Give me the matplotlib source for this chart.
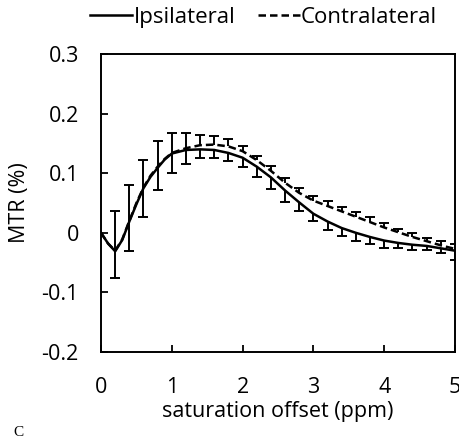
import numpy as np
import matplotlib
matplotlib.use('Agg')
import matplotlib.pyplot as plt

# curve values (ppm, MTR)
offset = [0.0, 0.1, 0.2, 0.3, 0.4, 0.5, 0.6, 0.7, 0.8, 0.9, 1.0,
          1.2, 1.4, 1.6, 1.8, 2.0, 2.2, 2.4, 2.6, 2.8, 3.0,
          3.2, 3.4, 3.6, 3.8, 4.0, 4.2, 4.4, 4.6, 4.8, 5.0]
ipsi = [0.0, -0.018, -0.031, -0.012, 0.019, 0.048, 0.075, 0.094, 0.109, 0.123, 0.133,
        0.139, 0.140, 0.139, 0.134, 0.126, 0.111, 0.093, 0.071, 0.051, 0.032,
        0.019, 0.008, 0.0, -0.007, -0.013, -0.017, -0.020, -0.022, -0.026, -0.030]
contra = [0.0, -0.018, -0.030, -0.011, 0.020, 0.050, 0.076, 0.096, 0.111, 0.124, 0.134,
          0.142, 0.147, 0.148, 0.145, 0.137, 0.122, 0.104, 0.084, 0.067, 0.054,
          0.045, 0.036, 0.027, 0.018, 0.009, 0.001, -0.007, -0.014, -0.021, -0.027]

# error bars every 0.2 ppm: ipsilateral shown below, contralateral above
err_offset = [0.2, 0.4, 0.6, 0.8, 1.0, 1.2, 1.4, 1.6, 1.8, 2.0, 2.2, 2.4, 2.6,
              2.8, 3.0, 3.2, 3.4, 3.6, 3.8, 4.0, 4.2, 4.4, 4.6, 4.8, 5.0]
ipsi_err = [0.044, 0.050, 0.048, 0.037, 0.032, 0.024, 0.014, 0.013, 0.013, 0.016,
            0.017, 0.020, 0.019, 0.015, 0.013, 0.014, 0.014, 0.013, 0.011, 0.012,
            0.009, 0.008, 0.006, 0.008, 0.015]
contra_err = [0.066, 0.060, 0.046, 0.043, 0.033, 0.025, 0.017, 0.014, 0.012, 0.009,
              0.007, 0.008, 0.008, 0.009, 0.008, 0.008, 0.007, 0.008, 0.008, 0.007,
              0.006, 0.006, 0.006, 0.008, 0.008]

x_ticks = [0, 1, 2, 3, 4, 5]
y_ticks = [-0.2, -0.1, 0.0, 0.1, 0.2, 0.3]
y_labels = ['-0.2', '-0.1', '0', '0.1', '0.2', '0.3']


def one_sided_bars(ax, x, y, err):
    # stem from the curve to the end, cap only at the far end
    ends = np.array(y) + np.array(err)
    ax.vlines(x, y, ends, color='black', lw=1.4)
    ax.plot(x, ends, ls='none', marker='_', ms=7, mew=1.4, color='black')


def main():
    plt.rcParams['font.family'] = ['Open Sans', 'DejaVu Sans']

    fig = plt.figure(figsize=(4.6, 4.38), dpi=100)
    ax = fig.add_axes([0.2196, 0.1963, 0.7694, 0.6804])

    off = np.array(offset)
    idx = [int(np.argmin(np.abs(off - v))) for v in err_offset]
    ipsi_at = np.array(ipsi)[idx]
    contra_at = np.array(contra)[idx]

    l1, = ax.plot(offset, ipsi, color='black', lw=1.8)
    l2, = ax.plot(offset, contra, color='black', lw=1.8, ls=(0, (3, 1.6)))

    one_sided_bars(ax, err_offset, ipsi_at, -np.array(ipsi_err))
    one_sided_bars(ax, err_offset, contra_at, contra_err)

    ax.set_xlim(0, 5)
    ax.set_ylim(-0.2, 0.3)
    ax.set_xticks(x_ticks)
    ax.set_yticks(y_ticks)
    ax.set_yticklabels(y_labels)
    ax.tick_params(direction='in', length=5, width=1.3, labelsize=15.5,
                   top=False, right=False)
    ax.tick_params(axis='x', pad=18)
    ax.tick_params(axis='y', pad=16)
    for s in ax.spines.values():
        s.set_linewidth(1.4)

    ax.set_xlabel('saturation offset (ppm)', fontsize=15.5, va='center')
    ax.xaxis.set_label_coords(0.5, -0.198)
    ax.set_ylabel('MTR (%)', fontsize=15.5, va='center')
    ax.yaxis.set_label_coords(-0.229, 0.5)

    fig.legend([l1, l2], ['Ipsilateral', 'Contralateral'], loc='center',
               bbox_to_anchor=(0.573, 0.961), ncol=2, frameon=False, fontsize=16,
               handlelength=1.9, handletextpad=0.05, columnspacing=1.0)

    fig.text(0.028, 0.004, 'C', fontsize=11, family='Liberation Serif')

    fig.savefig('out.png', dpi=100)


if __name__ == '__main__':
    main()
